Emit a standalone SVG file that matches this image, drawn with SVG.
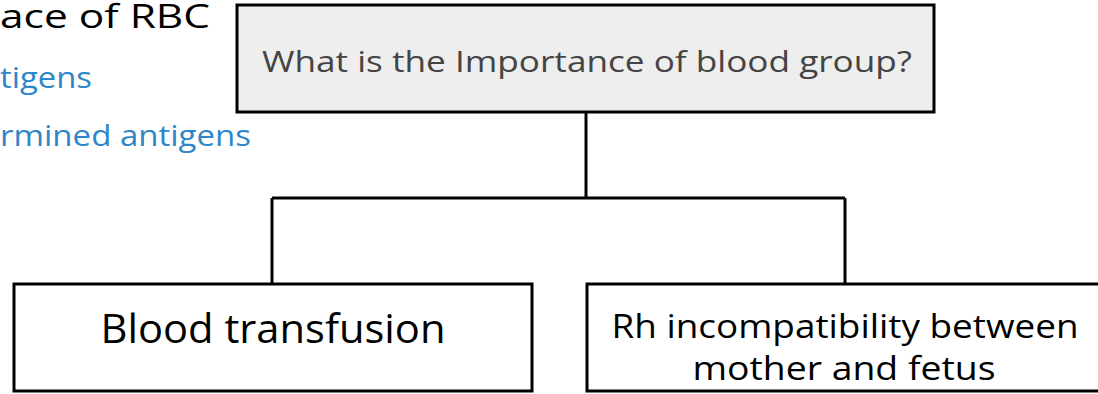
<svg xmlns="http://www.w3.org/2000/svg" width="1098" height="394" viewBox="0 0 1098 394">
  <style>
    text { font-family: "Comic Sans MS", "Open Sans", "DejaVu Sans", sans-serif; }
    .box { fill: #ffffff; stroke: #000000; stroke-width: 3; }
    .box-q { fill: #eeeeee; stroke: #000000; stroke-width: 3; }
    .link { fill: none; stroke: #000000; stroke-width: 3; }
    .label { fill: #000000; text-anchor: middle; }
    .note-dark { fill: #000000; font-size: 32px; }
    .note-blue { fill: #2e86c8; font-size: 30px; }
  </style>

  <!-- leftover slide text running in from the left edge -->
  <g id="background-notes">
    <text class="note-dark" x="210" y="28" text-anchor="end" textLength="210" lengthAdjust="spacingAndGlyphs">ace of RBC</text>
    <text class="note-blue" x="92" y="88" text-anchor="end" textLength="92" lengthAdjust="spacingAndGlyphs">tigens</text>
    <text class="note-blue" x="251" y="146" text-anchor="end" textLength="251" lengthAdjust="spacingAndGlyphs">rmined antigens</text>
  </g>

  <!-- tree connectors -->
  <g id="connectors">
    <path class="link" d="M586 112 V198"/>
    <path class="link" d="M272 198 H845"/>
    <path class="link" d="M272 198 V284"/>
    <path class="link" d="M845 198 V284"/>
  </g>

  <g id="question">
    <rect class="box-q" x="237" y="5" width="697" height="107"/>
    <text class="label" x="587" y="72" font-size="30" style="fill:#444444" textLength="650" lengthAdjust="spacingAndGlyphs">What is the Importance of blood group?</text>
  </g>

  <g id="transfusion">
    <rect class="box" x="14" y="284" width="518" height="107"/>
    <text class="label" x="273" y="343" font-size="40" textLength="345" lengthAdjust="spacingAndGlyphs">Blood transfusion</text>
  </g>

  <g id="rh-incompatibility">
    <rect class="box" x="587" y="284" width="530" height="107"/>
    <text class="label" x="845" y="338" font-size="33" textLength="467" lengthAdjust="spacingAndGlyphs">Rh incompatibility between</text>
    <text class="label" x="844" y="380" font-size="33" textLength="303" lengthAdjust="spacingAndGlyphs">mother and fetus</text>
  </g>
</svg>
